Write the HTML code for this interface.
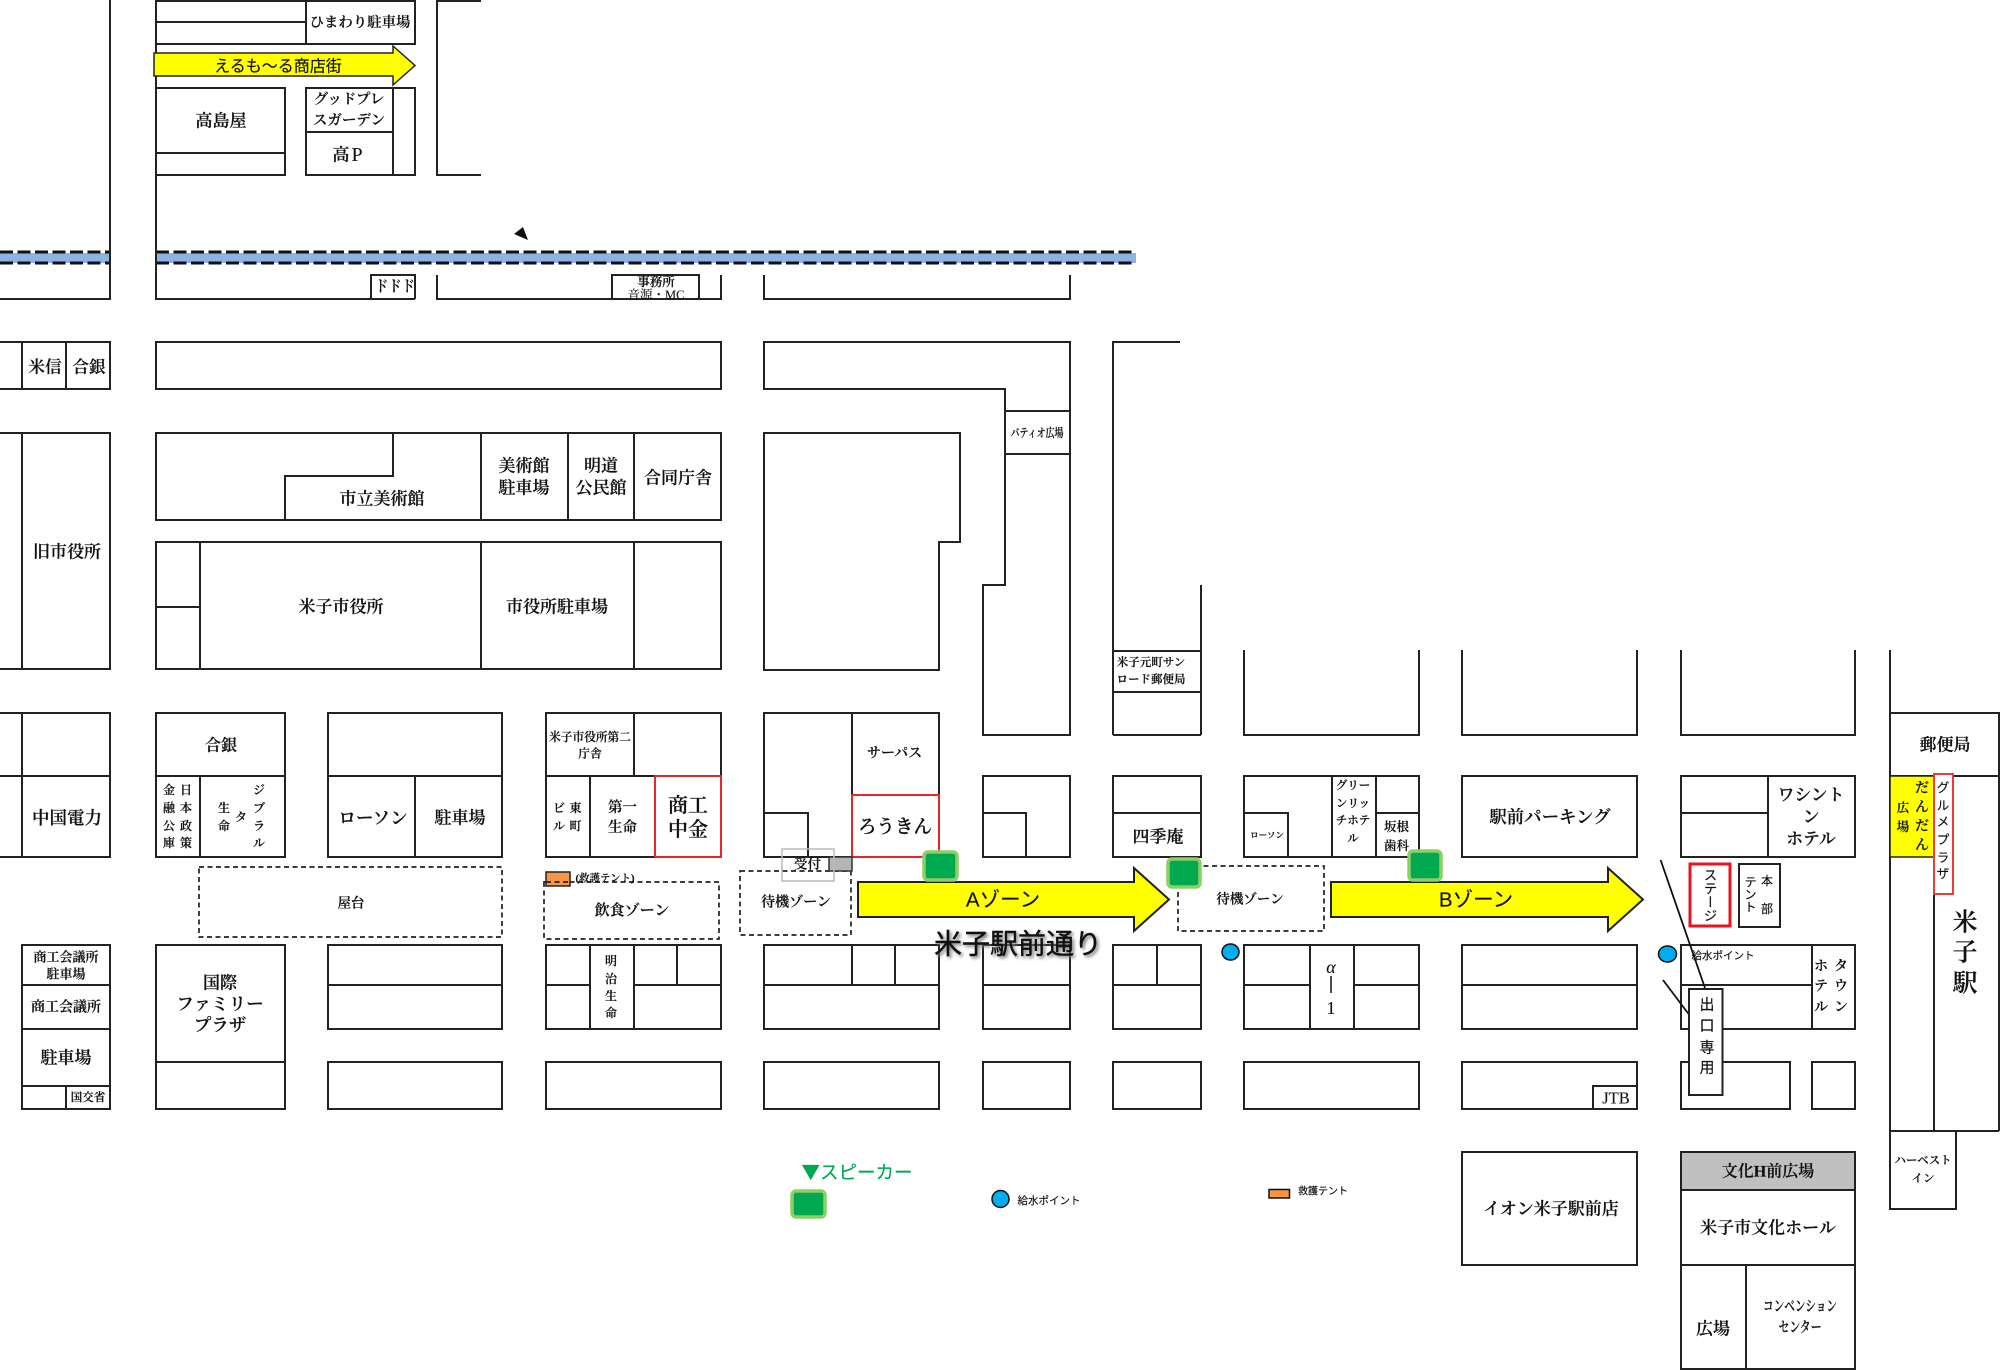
<!DOCTYPE html>
<html lang="ja"><head><meta charset="utf-8"><title>米子駅前通り マップ</title>
<style>
html,body{margin:0;padding:0;background:#fff}
svg{display:block}
.s text{font-family:"Liberation Serif","Noto Serif CJK JP","Noto Serif CJK SC",serif;fill:#111;stroke:#111;stroke-width:.2;text-anchor:middle;dominant-baseline:central;font-weight:600}
.g text{font-family:"Liberation Sans","Noto Sans CJK JP",sans-serif;fill:#111;stroke:#111;stroke-width:.15;text-anchor:middle;dominant-baseline:central;font-weight:400}
.s text.n{font-weight:400;stroke-width:.1}
.v{writing-mode:vertical-rl}
</style></head><body>
<svg width="2000" height="1370" viewBox="0 0 2000 1370" xmlns="http://www.w3.org/2000/svg">
<rect width="2000" height="1370" fill="#fff"/>
<!-- water strip -->
<g>
<rect x="0" y="253" width="110" height="10" fill="#8DB3E2"/>
<rect x="156" y="253" width="980" height="10" fill="#8DB3E2"/>
<g stroke="#111" stroke-width="3" stroke-dasharray="13 4.5" fill="none">
<path d="M0 252H110M0 263H110M156 252H1136M156 263H1136"/>
</g></g>
<path d="M523 227L514 234L528 240Z" fill="#111"/>
<!-- buildings -->
<g fill="none" stroke="#222" stroke-width="2">
<!-- top -->
<path d="M110 0V299H0M156 0V299H415M437 275V299H721V275M764 275V299H1070V275"/>
<path d="M156 1H415V44H156M156 22H306M306 1V44M415 1V44"/>
<path d="M481 1H437V175H481"/>
<rect x="156" y="88" width="129" height="87"/><path d="M156 153H285"/>
<rect x="306" y="88" width="109" height="87"/><path d="M393 88V175M306 132H393"/>
<path d="M371 299V275H415V299M612 299V275H699V299"/>
<!-- row 342 -->
<path d="M0 342H110V389H0M22 342V389M66 342V389"/>
<rect x="156" y="342" width="565" height="47"/>
<path d="M1113 735V342H1180M1201 585V735M1113 651H1201M1113 692H1201M1113 735H1201"/>
<path d="M764 389V342H1070V735H983V585H1005V389ZM1005 411H1070M1005 454H1070"/>
<path d="M764 433H960V542H939V670H764Z"/>
<!-- row 433 -->
<path d="M0 433H22V669H0M22 433H110V669H22"/>
<rect x="156" y="433" width="565" height="87"/>
<path d="M393 433V476H285V520M481 433V520M568 433V520M634 433V520"/>
<rect x="156" y="542" width="565" height="127"/>
<path d="M200 542V669M156 607H200M481 542V669M634 542V669"/>
<!-- open-top blocks -->
<path d="M1244 650V735H1419V650M1462 650V735H1637V650M1681 650V735H1855V650M1890 650V713"/>
<!-- row 713 -->
<path d="M0 713H110V857H0M22 713V857M0 776H110"/>
<rect x="156" y="713" width="129" height="144"/><path d="M156 776H285M200 776V857"/>
<rect x="328" y="713" width="174" height="144"/><path d="M328 776H502M415 776V857"/>
<rect x="546" y="713" width="175" height="144"/><path d="M546 776H721M634 713V776M590 776V857"/>
<path d="M852 795V713H764V857H852M852 713H939V795M764 813H808V857"/>
<rect x="983" y="776" width="87" height="81"/><path d="M983 813H1026V857"/>
<rect x="1113" y="776" width="88" height="81"/><path d="M1113 813H1201"/>
<rect x="1244" y="776" width="175" height="81"/><path d="M1332 776V857M1376 776V857M1376 813H1419M1244 813H1288V857"/>
<rect x="1462" y="776" width="175" height="81"/>
<rect x="1681" y="776" width="174" height="81"/><path d="M1768 776V857M1681 813H1768"/>
<!-- station -->
<path d="M1890 713H1999V1131M1890 776H1999M1890 713V1131H1999M1934 776V1131"/>
<rect x="1890" y="1131" width="66" height="78"/>
<!-- row 945 -->
<rect x="22" y="945" width="88" height="164"/><path d="M22 985H110M22 1029H110M22 1086H110M66 1086V1109"/>
<rect x="156" y="945" width="129" height="164"/><path d="M156 1062H285"/>
<rect x="328" y="945" width="174" height="84"/><path d="M328 985H502"/>
<rect x="328" y="1062" width="174" height="47"/>
<rect x="546" y="945" width="175" height="84"/><path d="M546 985H590M634 985H721M590 945V1029M634 945V1029M677 945V985"/>
<rect x="546" y="1062" width="175" height="47"/>
<rect x="764" y="945" width="175" height="84"/><path d="M764 985H939M852 945V985M895 945V985"/>
<rect x="764" y="1062" width="175" height="47"/>
<rect x="983" y="945" width="87" height="84"/><path d="M983 985H1070"/>
<rect x="983" y="1062" width="87" height="47"/>
<rect x="1113" y="945" width="88" height="84"/><path d="M1113 985H1201M1157 945V985"/>
<rect x="1113" y="1062" width="88" height="47"/>
<rect x="1244" y="945" width="175" height="84"/><path d="M1244 985H1310M1354 985H1419M1310 945V1029M1354 945V1029"/>
<rect x="1244" y="1062" width="175" height="47"/>
<rect x="1462" y="945" width="175" height="84"/><path d="M1462 985H1637"/>
<rect x="1462" y="1062" width="175" height="47"/><path d="M1593 1109V1086H1637"/>
<rect x="1681" y="945" width="174" height="84"/><path d="M1681 985H1812M1812 945V1029"/>
<rect x="1681" y="1062" width="109" height="47"/>
<rect x="1812" y="1062" width="43" height="47"/>
<!-- bottom -->
<rect x="1462" y="1152" width="175" height="113"/>
</g>
<rect x="1681" y="1152" width="174" height="38" fill="#C0C0C0"/>
<g fill="none" stroke="#222" stroke-width="2">
<rect x="1681" y="1152" width="174" height="217"/><path d="M1681 1190H1855M1681 1265H1855M1746 1265V1369"/>
</g>
<!-- red -->
<g fill="none" stroke="#E8262A" stroke-width="2">
<rect x="655" y="776" width="66" height="81"/>
<path d="M852 857V795H939V857H852"/>
</g>
<rect x="1890" y="776" width="44" height="81" fill="#FFFF00" stroke="#222" stroke-width="1.5"/>
<rect x="1934" y="774" width="19" height="120" fill="#fff" stroke="#EE3A3E" stroke-width="2"/>
<!-- dashed zones -->
<g fill="none" stroke="#222" stroke-width="1.7" stroke-dasharray="5 3.5">
<rect x="199" y="867" width="303" height="70"/>
<rect x="544" y="882" width="175" height="57"/>
<rect x="740" y="871" width="111" height="64"/>
<rect x="1178" y="866" width="146" height="65"/>
</g>
<rect x="546" y="872" width="24" height="14" fill="#F79646" stroke="#222" stroke-width="1.5"/>
<path d="M546 882H570" stroke="#222" stroke-width="1.7" stroke-dasharray="5 3.5"/>
<rect x="829" y="857" width="23" height="14" fill="#B5B5B5" stroke="#333" stroke-width="1.5"/>
<rect x="782" y="849" width="52" height="32" fill="none" stroke="#bbb" stroke-width="1.5"/>
<!-- arrows -->
<path d="M154 53H393V46L415 65.5L393 85V76H154Z" fill="#FFFF00" stroke="#222" stroke-width="1.5"/>
<path d="M858 882H1134V868L1169 899.5L1134 931V917H858Z" fill="#FFFF00" stroke="#222" stroke-width="2"/>
<path d="M1331 882H1608V868L1643 899.5L1608 931V917H1331Z" fill="#FFFF00" stroke="#222" stroke-width="2"/>
<!-- speakers -->
<g fill="#00A94F" stroke="#8CD065" stroke-width="3.5">
<rect x="924" y="852" width="33" height="28" rx="4"/>
<rect x="1168" y="859" width="32" height="28" rx="4"/>
<rect x="1409" y="851" width="32" height="29" rx="4"/>
<rect x="792" y="1191" width="33" height="26" rx="4"/>
</g>
<!-- water points -->
<g fill="#00AEEF" stroke="#111" stroke-width="1.5">
<ellipse cx="1230.5" cy="952" rx="8.5" ry="8"/>
<ellipse cx="1667.5" cy="954" rx="9" ry="8"/>
<ellipse cx="1000.5" cy="1199" rx="8.5" ry="8.5"/>
</g>
<rect x="1269" y="1189.5" width="20.5" height="8.5" fill="#F79646" stroke="#111" stroke-width="1.5"/>
<!-- stage etc -->
<rect x="1690" y="864" width="40" height="62" fill="#fff" stroke="#E8161C" stroke-width="3"/>
<rect x="1739" y="864" width="41" height="63" fill="#fff" stroke="#222" stroke-width="2"/>
<path d="M1660.6 860L1705 988M1663 980L1688.6 1014" stroke="#111" stroke-width="1.8" fill="none"/>
<rect x="1689" y="989" width="33.5" height="106" fill="#fff" stroke="#222" stroke-width="2"/>
<path d="M1331 976V993" stroke="#111" stroke-width="1.5"/>
<!-- serif labels -->
<g class="s" transform="translate(0,1)">
<text x="360" y="22" font-size="14.4">ひまわり駐車場</text>
<text x="221" y="120" font-size="17">高島屋</text>
<text x="349" y="99" font-size="14.5">グッドプレ</text>
<text x="349" y="120" font-size="14.5">スガーデン</text>
<text x="341" y="154" font-size="17">高</text><text class="n" x="357" y="154" font-size="20">P</text>
<text x="395" y="286" font-size="16" textLength="40" lengthAdjust="spacingAndGlyphs">ドドド</text>
<text x="656" y="281" font-size="12.5">事務所</text>
<text class="n" x="656" y="294" font-size="12.5">音源・MC</text>
<text x="45" y="366" font-size="16.5">米信</text>
<text x="89" y="366" font-size="16.5">合銀</text>
<text x="67" y="551" font-size="17">旧市役所</text>
<text x="382" y="498" font-size="17">市立美術館</text>
<text x="524" y="465" font-size="17">美術館</text>
<text x="524" y="487" font-size="17">駐車場</text>
<text x="601" y="465" font-size="17">明道</text>
<text x="601" y="487" font-size="17">公民館</text>
<text x="678" y="477" font-size="17">合同庁舎</text>
<text x="341" y="606" font-size="17">米子市役所</text>
<text x="557" y="606" font-size="17">市役所駐車場</text>
<text x="67" y="817" font-size="17.5">中国電力</text>
<text x="221" y="745" font-size="16">合銀</text>
<text x="169" y="789" font-size="12">金</text><text x="169" y="807" font-size="12">融</text><text x="169" y="825" font-size="12">公</text><text x="169" y="842" font-size="12">庫</text>
<text x="186" y="789" font-size="12">日</text><text x="186" y="807" font-size="12">本</text><text x="186" y="825" font-size="12">政</text><text x="186" y="842" font-size="12">策</text>
<text x="224" y="807" font-size="12">生</text><text x="224" y="825" font-size="12">命</text>
<text x="241" y="816" font-size="12">タ</text>
<text x="259" y="789" font-size="12">ジ</text><text x="259" y="807" font-size="12">ブ</text><text x="259" y="825" font-size="12">ラ</text><text x="259" y="842" font-size="12">ル</text>
<text x="373" y="817" font-size="17.5">ローソン</text>
<text x="460" y="817" font-size="17">駐車場</text>
<text x="351" y="902" font-size="13.5">屋台</text>
<text x="590" y="736.5" font-size="11.7">米子市役所第二</text>
<text x="590" y="753" font-size="11.7">庁舎</text>
<text x="575.5" y="807" font-size="12">東</text><text x="575.5" y="825" font-size="12">町</text>
<text x="559" y="807" font-size="12">ビ</text><text x="559" y="825" font-size="12">ル</text>
<text x="622.5" y="807" font-size="14.5">第一</text>
<text x="622.5" y="827" font-size="14.5">生命</text>
<text x="688" y="805" font-size="20">商工</text>
<text x="688" y="829" font-size="20">中金</text>
<text x="605" y="878" font-size="10.5">(救護テント)</text>
<text x="632" y="910" font-size="15">飲食ゾーン</text>
<text x="796" y="902" font-size="14">待機ゾーン</text>
<text x="66" y="956" font-size="13">商工会議所</text>
<text x="66" y="973" font-size="13">駐車場</text>
<text x="66" y="1007" font-size="14">商工会議所</text>
<text x="66" y="1057" font-size="17">駐車場</text>
<text x="88" y="1097" font-size="11.5">国交省</text>
<text x="220" y="982" font-size="17">国際</text>
<text x="220" y="1003" font-size="17.5">ファミリー</text>
<text x="220" y="1024" font-size="17.5">プラザ</text>
<text x="611" y="960" font-size="12">明</text><text x="611" y="978" font-size="12">治</text><text x="611" y="995" font-size="12">生</text><text x="611" y="1012" font-size="12">命</text>
<text x="894.5" y="753" font-size="14">サーパス</text>
<text x="895" y="827" font-size="18.5">ろうきん</text>
<text x="807.5" y="863" font-size="13.5">受付</text>
<text x="1158" y="836" font-size="17">四季庵</text>
<text x="1267" y="834" font-size="8.5">ローソン</text>
<text x="1353" y="785" font-size="11.5">グリー</text>
<text x="1353" y="803" font-size="11.5">ンリッ</text>
<text x="1353" y="820" font-size="11.5">チホテ</text>
<text x="1353" y="838" font-size="11.5">ル</text>
<text x="1396.5" y="826" font-size="12.5">坂根</text>
<text x="1396.5" y="845" font-size="12.5">歯科</text>
<text x="1250" y="898" font-size="13.5">待機ゾーン</text>
<text x="1550" y="816" font-size="17.4">駅前パーキング</text>
<text x="1811" y="794" font-size="16.8">ワシント</text>
<text x="1811" y="816" font-size="16.8">ン</text>
<text x="1811" y="838" font-size="16.8">ホテル</text>
<text x="1945" y="744" font-size="17">郵便局</text>
<text x="1922" y="788" font-size="14">だ</text><text x="1922" y="807" font-size="14">ん</text><text x="1922" y="826" font-size="14">だ</text><text x="1922" y="845" font-size="14">ん</text>
<text x="1903" y="807" font-size="12.5">広</text><text x="1903" y="826" font-size="12.5">場</text>
<text x="1965" y="922" font-size="25">米</text><text x="1965" y="952" font-size="25">子</text><text x="1965" y="983" font-size="25">駅</text>
<text x="1841" y="966" font-size="14">タ</text><text x="1841" y="986" font-size="14">ウ</text><text x="1841" y="1007" font-size="14">ン</text>
<text x="1821" y="966" font-size="14">ホ</text><text x="1821" y="986" font-size="14">テ</text><text x="1821" y="1007" font-size="14">ル</text>
<text class="n" x="1616" y="1097" font-size="16.5">JTB</text>
<text class="n" x="1331" y="966" font-size="18" font-style="italic">α</text>
<text class="n" x="1331" y="1007" font-size="18">1</text>
<text x="1037" y="432" font-size="12" textLength="53" lengthAdjust="spacingAndGlyphs">バティオ広場</text>
<text x="1151" y="662" font-size="11.5">米子元町サン</text>
<text x="1151" y="679" font-size="11.5">ロード郵便局</text>
<text x="1551" y="1208" font-size="17">イオン米子駅前店</text>
<text x="1768" y="1171" font-size="16">文化H前広場</text>
<text x="1768" y="1227" font-size="17">米子市文化ホール</text>
<text x="1713" y="1328" font-size="17">広場</text>
<text x="1800" y="1306" font-size="15" textLength="74" lengthAdjust="spacingAndGlyphs">コンベンション</text>
<text x="1800" y="1327" font-size="15" textLength="43" lengthAdjust="spacingAndGlyphs">センター</text>
<text x="1923" y="1160" font-size="11.4">ハーベスト</text>
<text x="1923" y="1178" font-size="11.4">イン</text>
</g>
<!-- sans labels -->
<g class="g" transform="translate(0,1)">
<text x="278" y="66" font-size="16">えるも～る商店街</text>
<text x="1003" y="899" font-size="20.5">Aゾーン</text>
<text x="1476" y="899" font-size="20.5">Bゾーン</text>
<text x="1018" y="943" font-size="28" style="filter:drop-shadow(2px 2px 1.5px #777);stroke-width:.4">米子駅前通り</text>
<text x="1943" y="787" font-size="12.5">グ</text><text x="1943" y="805" font-size="12.5">ル</text><text x="1943" y="821" font-size="12.5">メ</text><text x="1943" y="839" font-size="12.5">プ</text><text x="1943" y="857" font-size="12.5">ラ</text><text x="1943" y="873" font-size="12.5">ザ</text>
<text x="1709" y="894" font-size="13.5" class="v">ステージ</text>
<text x="1749" y="893" font-size="12.5" class="v">テント</text>
<text x="1767" y="880" font-size="12">本</text><text x="1767" y="908" font-size="12">部</text>
<text x="1707" y="1004" font-size="15">出</text><text x="1707" y="1025" font-size="15">口</text><text x="1707" y="1047" font-size="15">専</text><text x="1707" y="1067" font-size="15">用</text>
<text x="1723" y="955" font-size="10.5">給水ポイント</text>
<text x="1049" y="1200" font-size="10.5">給水ポイント</text>
<text x="1323" y="1191" font-size="10">救護テント</text>
<text x="857" y="1171" font-size="18.5" style="fill:#00A94F;stroke:#00A94F;font-family:'Noto Sans CJK JP',sans-serif">▼スピーカー</text>
</g>
</svg>
</body></html>
